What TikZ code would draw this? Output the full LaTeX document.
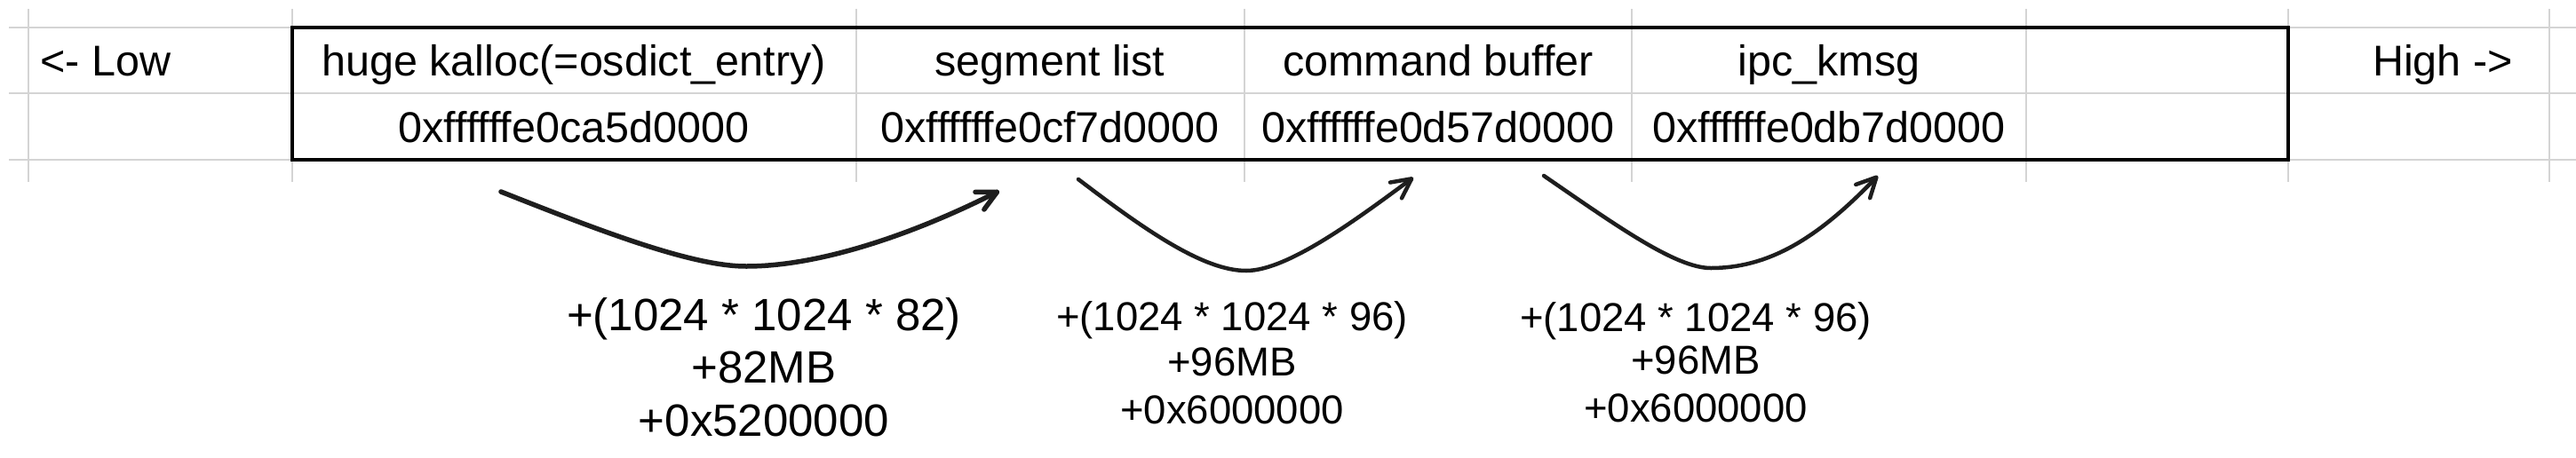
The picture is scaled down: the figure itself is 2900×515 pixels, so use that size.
\documentclass[tikz,border=0pt]{standalone}
\usepackage{fontspec}
\setmainfont{Liberation Sans}
\usetikzlibrary{arrows.meta}
\definecolor{gridgray}{RGB}{212,212,212}
\definecolor{inkblack}{RGB}{30,30,30}
\begin{document}
\begin{tikzpicture}[x=1pt,y=-1pt,
  cell/.style={anchor=base,inner sep=0pt,font=\fontsize{48.5}{58}\selectfont},
  lbla/.style={anchor=base,inner sep=0pt,font=\fontsize{51}{60}\selectfont},
  lblb/.style={anchor=base,inner sep=0pt,font=\fontsize{45.5}{54}\selectfont},
  gridln/.style={draw=gridgray,line width=2pt},
  curvearrow/.style={draw=inkblack,line width=5pt,line cap=round,line join=round,
    -{Straight Barb[length=22pt,width=22pt,round]}}
]
\useasboundingbox (0,0) rectangle (2900,515);
\fill[white] (0,0) rectangle (2900,515);
% grid lines
\foreach \y in {31,105,180} \draw[gridln] (10,\y) -- (2900,\y);
\foreach \x in {32,329,964,1401,1837,2281,2576,2870} \draw[gridln] (\x,10) -- (\x,205);
% table box
\draw[line width=3.5pt] (329,31) rectangle (2576,180);
% row 1
\node[cell,anchor=base west] (low) at (45,85) {<- Low};
\node[cell] (kalloc) at (646,85) {huge kalloc(=osdict\_entry)};
\node[cell] (seg) at (1182,85) {segment list};
\node[cell] (cmd) at (1619,85) {command buffer};
\node[cell] (ipc) at (2059,85) {ipc\_kmsg};
\node[cell] (high) at (2750,85) {High ->};
% row 2
\node[cell] (addr1) at (646,160) {0xffffffe0ca5d0000};
\node[cell] (addr2) at (1182,160) {0xffffffe0cf7d0000};
\node[cell] (addr3) at (1619,160) {0xffffffe0d57d0000};
\node[cell] (addr4) at (2059,160) {0xffffffe0db7d0000};
% labels
\node[lbla] (l1a) at (860,372) {+(1024 * 1024 * 82)};
\node[lbla] (l1b) at (860,431) {+82MB};
\node[lbla] (l1c) at (860,491) {+0x5200000};
\node[lblb] (l2a) at (1387,372) {+(1024 * 1024 * 96)};
\node[lblb] (l2b) at (1387,423) {+96MB};
\node[lblb] (l2c) at (1387,477) {+0x6000000};
\node[lblb] (l3a) at (1909,373) {+(1024 * 1024 * 96)};
\node[lblb] (l3b) at (1909,421) {+96MB};
\node[lblb] (l3c) at (1909,475) {+0x6000000};
% arrows
\coordinate (a1s) at (564,216);
\coordinate (a1m) at (840,300);
\coordinate (a1e) at (1125,215);
\coordinate (a2s) at (1214,202);
\coordinate (a2m) at (1403,305);
\coordinate (a2e) at (1591,200);
\coordinate (a3s) at (1738,198);
\coordinate (a3m) at (1926,302);
\coordinate (a3e) at (2114,198);
\draw[curvearrow,line width=5.5pt] (a1s) .. controls (680,262) and (780,300) .. (a1m) .. controls (930,300) and (1040,258) .. (a1e);
\draw[curvearrow,line width=4.5pt] (a2s) .. controls (1290,260) and (1355,305) .. (a2m) .. controls (1450,305) and (1530,245) .. (a2e);
\draw[curvearrow,line width=4.5pt] (a3s) .. controls (1818,253) and (1886,302) .. (a3m) .. controls (1990,302) and (2045,270) .. (a3e);
\end{tikzpicture}
\end{document}
